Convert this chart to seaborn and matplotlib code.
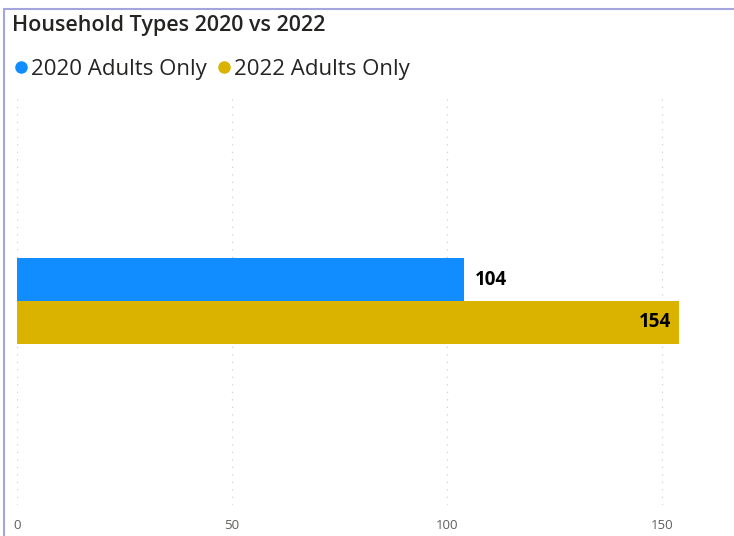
import pandas as pd
import numpy as np
import seaborn as sns
import matplotlib.pyplot as plt
from matplotlib.lines import Line2D

# Data
categories = ["Adults Only"]
series = ["2020 Adults Only", "2022 Adults Only"]
values = [104, 154]
colors = ["#118DFF", "#D9B300"]
x_ticks = [0, 50, 100, 150]

df = pd.DataFrame({
    "Type": categories * len(series),
    "Series": series,
    "Count": values,
})

sns.set_theme(style="white")
plt.rcParams['font.family'] = ['Open Sans', 'DejaVu Sans']

fig = plt.figure(figsize=(7.34, 5.36), dpi=100)
ax = fig.add_axes([17 / 734, 1 - 505 / 536, 1 - 17 / 734, (505 - 97) / 536])

sns.barplot(data=df, y="Type", x="Count", hue="Series", palette=colors,
            orient="h", width=0.21, saturation=1, ax=ax, legend=False,
            edgecolor="none", linewidth=0)

ax.set_xlim(0, (734 - 17) / 4.3)
ax.set_ylim(0.5, -0.5)
ax.set_xticks(x_ticks)
ax.set_xticklabels([str(t) for t in x_ticks], color="#605E5C", fontsize=9.5)
ax.tick_params(axis="x", length=0, pad=10)
ax.set_yticks([])
ax.set_xlabel("")
ax.set_ylabel("")
for s in ax.spines.values():
    s.set_visible(False)
ax.grid(axis="x", linestyle=(0, (1, 5)), color="#D0D0D0", linewidth=0.9)
ax.set_axisbelow(True)

# data labels
for bar, v in zip(ax.patches, values):
    y = bar.get_y() + bar.get_height() / 2
    if v == max(values):
        ax.text(v - 2, y, str(v), ha="right", va="center",
                fontsize=13.5, fontweight="bold", color="#000000")
    else:
        ax.text(v + 2.5, y, str(v), ha="left", va="center",
                fontsize=13.5, fontweight="bold", color="#000000")

# title and legend
fig.text(12 / 734, 1 - 26 / 536, "Household Types 2020 vs 2022",
         fontsize=15.5, fontweight="semibold", color="#252423",
         va="center", ha="left")
handles = [Line2D([0], [0], marker="o", linestyle="", markersize=8,
                  markerfacecolor=c, markeredgecolor=c) for c in colors]
fig.legend(handles, series, loc="center left",
           bbox_to_anchor=(14 / 734, 1 - 69 / 536), ncol=2, frameon=False,
           fontsize=16, handlelength=0.6, handletextpad=0.15,
           columnspacing=0.5, labelcolor="#252423",
           borderaxespad=0, borderpad=0)

# frame border (left and top)
fig.add_artist(Line2D([4 / 734, 4 / 734], [0, 1 - 9 / 536],
                      transform=fig.transFigure, color="#A3A6DD", linewidth=1.5))
fig.add_artist(Line2D([4 / 734, 1], [1 - 9 / 536, 1 - 9 / 536],
                      transform=fig.transFigure, color="#A3A6DD", linewidth=1.5))

fig.savefig("out.png", dpi=100)
